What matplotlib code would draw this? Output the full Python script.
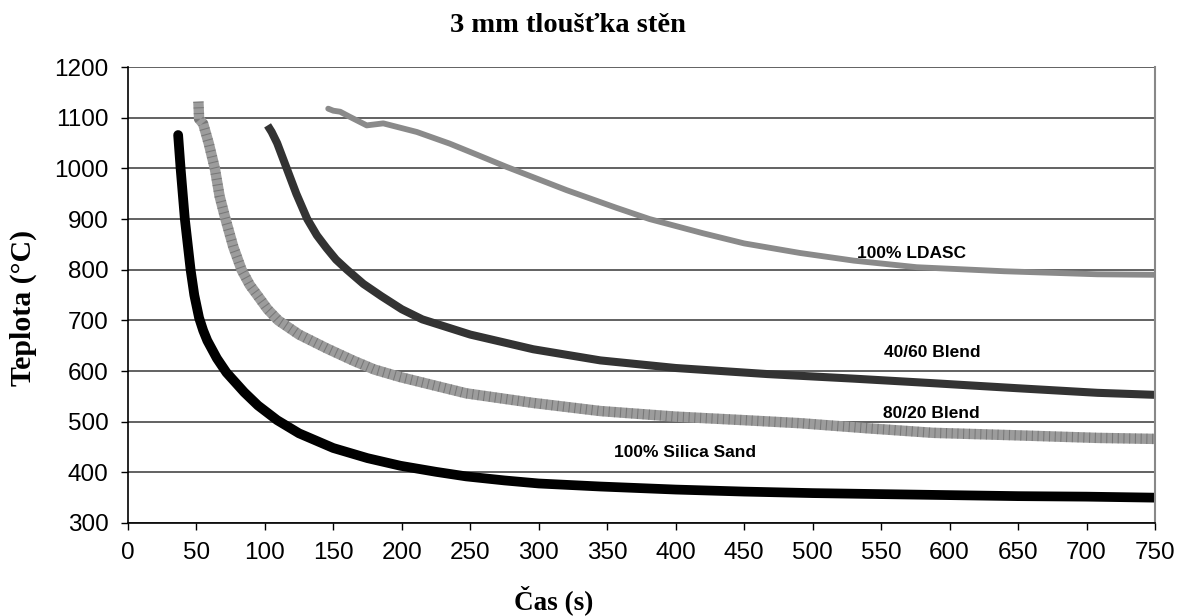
import matplotlib.pyplot as plt

# 100% Silica Sand
sand_x = [36.7, 38.5, 41.6, 45.8, 48.5, 52, 55, 58, 65, 72, 85, 95, 109, 125, 150, 175, 199, 225, 247, 275, 300, 345, 400, 450, 500, 550, 600, 650, 700, 750]
sand_y = [1066, 1000, 900, 800, 750, 705, 680, 660, 625, 597, 558, 532, 503, 477, 448, 428, 413, 401, 392, 384, 378, 372, 366, 362, 359, 357, 355, 353, 352, 350]

# 80/20 Blend
b8020_x = [51.5, 52, 55, 59, 63.5, 67, 71.3, 77, 83, 89, 95, 102, 109.8, 125, 145, 165, 180, 199, 247, 296, 345, 400, 450, 491, 540, 588, 650, 708, 750]
b8020_y = [1132, 1098, 1088, 1050, 1000, 945, 900, 845, 800, 770, 748, 722, 700, 672, 645, 620, 603, 588, 556, 537, 521, 510, 503, 497, 487, 478, 473, 468, 466]

# 40/60 Blend
b4060_x = [102, 105, 109, 116, 123, 131, 138, 145, 152, 160, 172, 185, 200, 215, 250, 296, 345, 400, 467, 530, 588, 650, 708, 750]
b4060_y = [1085, 1072, 1050, 1000, 950, 900, 868, 843, 820, 800, 772, 748, 722, 702, 672, 643, 621, 606, 594, 585, 576, 566, 557, 553]

# 100% LDASC
ldasc_x = [146.3, 150, 155, 162, 174.4, 186.5, 211, 235, 255, 276.6, 320.5, 357, 381, 420, 450, 491, 530, 576, 640, 708, 750]
ldasc_y = [1118, 1114, 1112, 1102, 1085, 1089, 1072, 1049, 1027, 1003, 957, 922, 900, 872, 852, 833, 818, 805, 797, 791, 790]

fig = plt.figure(figsize=(11.84, 6.16), dpi=100)
ax = fig.add_axes([0.108, 0.151, 0.8675, 0.740])

ax.plot(ldasc_x, ldasc_y, color='#8a8a8a', lw=4.2, solid_capstyle='round', solid_joinstyle='round')
ax.plot(b4060_x, b4060_y, color='#333333', lw=5.8, solid_capstyle='butt', solid_joinstyle='round')
ax.plot(b8020_x, b8020_y, color='#9c9c9c', lw=7.5, solid_capstyle='butt', solid_joinstyle='round')
ax.plot(b8020_x, b8020_y, color='#5a5a5a', lw=7.5, dashes=(0.1, 0.45), alpha=0.55)
ax.plot(sand_x, sand_y, color='black', lw=7.0, solid_capstyle='round', solid_joinstyle='round')

lab_font = dict(fontsize=12.5, fontweight='bold', ha='center', va='center', family='Liberation Sans')
ax.text(572, 833, '100% LDASC', **lab_font)
ax.text(587, 636, '40/60 Blend', **lab_font)
ax.text(587, 517, '80/20 Blend', **lab_font)
ax.text(407, 440, '100% Silica Sand', **lab_font)

ax.set_xlim(0, 750)
ax.set_ylim(300, 1200)
ax.set_xticks(range(0, 751, 50))
ax.set_yticks(range(300, 1201, 100))
ax.tick_params(labelsize=17.5, direction='out', length=5, width=1, pad=9)
for lab in ax.get_xticklabels() + ax.get_yticklabels():
    lab.set_family('Liberation Sans')

ax.grid(axis='y', color='#555555', lw=1.3)
ax.set_axisbelow(True)
ax.spines['top'].set_visible(False)
ax.spines['right'].set_color('#888888')
ax.spines['right'].set_linewidth(1.5)
ax.spines['left'].set_linewidth(1.2)
ax.spines['bottom'].set_linewidth(1.2)

fig.text(0.48, 0.958, '3 mm tloušťka stěn', ha='center', va='center', fontsize=20.5, fontweight='bold', family='Liberation Serif')
fig.text(0.468, 0.026, 'Čas (s)', ha='center', va='center', fontsize=19.5, fontweight='bold', family='Liberation Serif')
fig.text(0.02, 0.5, 'Teplota (°C)', ha='center', va='center', rotation=90, fontsize=21.5, fontweight='bold', family='Liberation Serif')

fig.savefig('out.png', dpi=100)
